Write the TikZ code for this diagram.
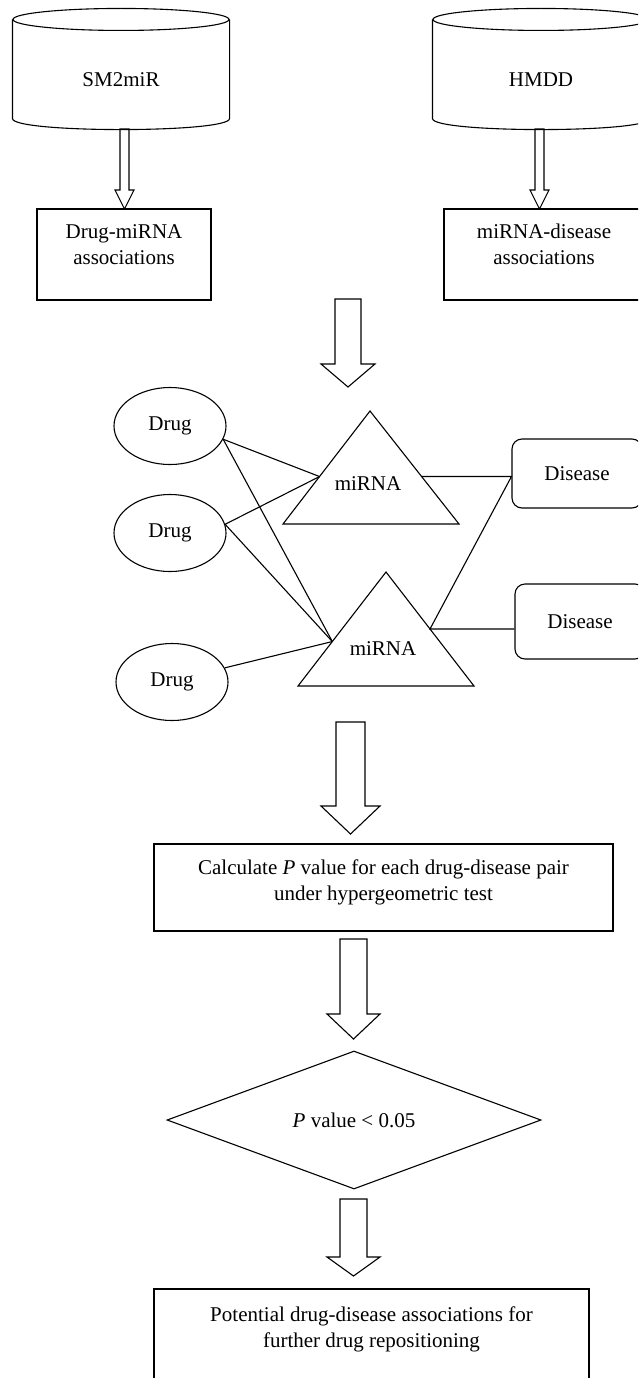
\documentclass[tikz,border=0pt]{standalone}
\usepackage{fontspec}
\setmainfont{Liberation Serif}
\usepackage{tikz}
\usetikzlibrary{calc,shapes.geometric}
\newcommand{\drawDB}[1]{% node: body of the database
  \draw ($(#1.north)+(0,-11)$) ellipse (108pt and 11pt);
  \draw ($(#1.north west)+(0,-11)$) -- ($(#1.south west)+(0,-11)$)
    .. controls ($(#1.south west)+(0,3.7)$) and ($(#1.south east)+(0,3.7)$)
    .. ($(#1.south east)+(0,-11)$) -- ($(#1.north east)+(0,-11)$);
}
\newcommand{\drawHollow}[6]{% x, top y, tip y, half shaft, half head, head length
  \draw (#1-#4,#2) -- (#1-#4,#3-#6) -- (#1-#5,#3-#6) -- (#1,#3)
    -- (#1+#5,#3-#6) -- (#1+#4,#3-#6) -- (#1+#4,#2) -- cycle;
}
\tikzset{
  dbbody/.style={rectangle, minimum width=216, minimum height=98, inner sep=0pt},
  assoc/.style={draw, rectangle, minimum height=91, inner sep=0pt, align=center, text depth=20pt},
  drugnode/.style={draw, ellipse, minimum width=112, minimum height=77, inner sep=0pt},
  disnode/.style={draw, rectangle, rounded corners=10pt, minimum width=130, inner sep=0pt},
  stepbox/.style={draw, rectangle, inner sep=0pt, align=center},
}

\begin{document}
\begin{tikzpicture}[x=1pt,y=-1pt,line width=1.1pt,font=\fontsize{21}{26}\selectfont]
\useasboundingbox (0,0) rectangle (638,1378);
\clip (0,0) rectangle (638,1378);
% Reference grid (temporary)
%\draw[help lines,step=50] (0,0) grid (638,1378);

% databases
\node[dbbody] (sm2mir) at (121,80) {SM2miR};
\drawDB{sm2mir}
\node[dbbody] (hmdd) at (541,80) {HMDD};
\drawDB{hmdd}
\drawHollow{124.5}{129}{209}{4.5}{9.5}{19}
\drawHollow{539.5}{129}{209}{4.5}{9.5}{19}

\node[assoc, minimum width=174] (dmbox) at (124,254.5) {Drug-miRNA\\associations};
\node[assoc, minimum width=200] (mdbox) at (544,254.5) {miRNA-disease\\associations};
\drawHollow{348}{299}{387}{13}{27}{23}

% network
\node[drugnode] (drug1) at (170,426) {Drug};
\node[drugnode] (drug2) at (170,533) {Drug};
\node[drugnode] (drug3) at (172,682) {Drug};

\coordinate (m1a) at (370,411);
\coordinate (m1l) at (283,524);
\coordinate (m1r) at (459,524);
\draw (m1a) -- (m1l) -- (m1r) -- cycle;
\node (mirna1) at (368,484) {miRNA};
\coordinate (m2a) at (386,572);
\coordinate (m2l) at (298,686);
\coordinate (m2r) at (474,686);
\draw (m2a) -- (m2l) -- (m2r) -- cycle;
\node (mirna2) at (383,649) {miRNA};

\node[disnode, minimum height=69] (dis1) at (577,473.5) {Disease};
\node[disnode, minimum height=75] (dis2) at (580,621.5) {Disease};

\coordinate (m1in) at ($(m1l)!0.42!(m1a)$);
\coordinate (m1out) at ($(m1r)!0.42!(m1a)$);
\coordinate (m2in) at ($(m2l)!0.39!(m2a)$);
\coordinate (m2out) at ($(m2r)!0.5!(m2a)$);

\draw (drug1.-14) -- (m1in);
\draw (drug1.-14) -- (m2in);
\draw (drug2.9) -- (m1in);
\draw (drug2.9) -- (m2in);
\draw (drug3.15) -- (m2in);
\draw (m1out) -- (m1out -| dis1.west) -- (m2out) -- (m2out -| dis2.west);

% test and result
\drawHollow{350.5}{722}{834}{14.5}{29.5}{28}
\node[stepbox, minimum width=459, minimum height=87, text depth=14.5pt] (calc) at (383.5,887.5)
  {Calculate \textit{P} value for each drug-disease pair\\under hypergeometric test};
\drawHollow{353.5}{939}{1039}{13.5}{26.5}{25}
\node[draw, diamond, minimum width=374, minimum height=138, inner sep=0pt] (pval) at (354,1120)
  {\textit{P} value < 0.05};
\drawHollow{353.5}{1199}{1276}{13.5}{26.5}{19}
\node[stepbox, minimum width=435, minimum height=111, text depth=35pt] (final) at (371.5,1344.5)
  {Potential drug-disease associations for\\further drug repositioning};
\end{tikzpicture}
\end{document}
